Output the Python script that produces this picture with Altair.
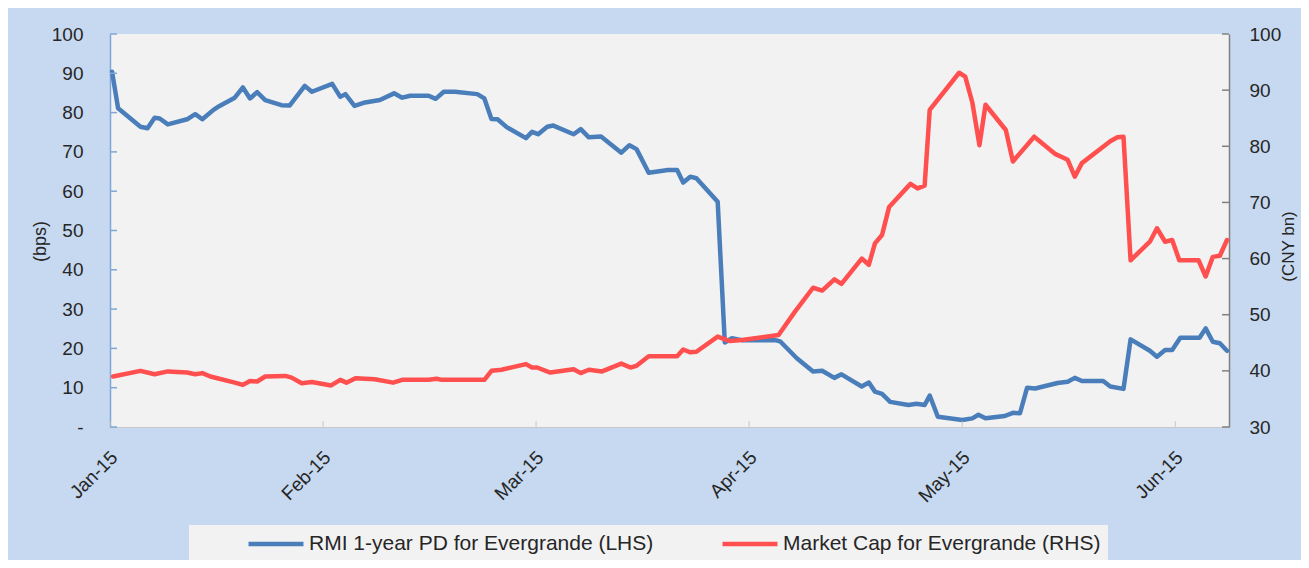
import altair as alt
import pandas as pd

months = ["Jan-15", "Feb-15", "Mar-15", "Apr-15", "May-15", "Jun-15"]
month_pos = [0, 21, 42, 63, 84, 105]

pd_t = [0.2, 0.8, 3.0, 3.7, 4.4, 4.9, 5.7, 7.6, 8.4, 9.1, 10.2, 10.8, 12.3, 13.1, 13.8, 14.5, 15.3, 16.9, 17.7, 19.2,
        19.9, 21.9, 22.7, 23.2, 24.1, 25.0, 26.6, 28.0, 28.8, 29.6, 31.4, 32.1, 32.9, 34.0, 36.2, 36.9, 37.6, 38.2, 39.1, 41.0,
        41.6, 42.2, 43.1, 43.7, 45.7, 46.4, 47.2, 48.4, 50.4, 51.2, 51.9, 53.1, 55.0, 55.9, 56.5, 57.2, 57.8, 59.9, 60.6, 61.3,
        62.3, 65.6, 66.1, 67.7, 69.3, 70.2, 71.4, 72.1, 74.1, 74.8, 75.4, 76.1, 76.9, 78.7, 79.5, 80.3, 80.8, 81.6, 84.0, 85.0,
        85.6, 86.3, 88.2, 89.0, 89.7, 90.4, 91.2, 93.4, 94.4, 95.1, 95.8, 97.9, 98.6, 99.9, 100.6, 102.5, 103.2, 104.0, 104.7, 105.5,
        107.4, 108.0, 108.7, 109.4, 110.1]
pd_v = [90.4, 81.1, 76.4, 76.0, 78.7, 78.5, 77.0, 78.3, 79.6, 78.3, 80.7, 81.7, 83.8, 86.4, 83.6, 85.2, 83.2, 81.9, 81.8, 86.8,
        85.3, 87.3, 84.0, 84.7, 81.7, 82.5, 83.2, 84.9, 83.8, 84.3, 84.3, 83.5, 85.3, 85.3, 84.7, 83.6, 78.4, 78.3, 76.3, 73.5,
        75.1, 74.5, 76.4, 76.7, 74.5, 75.8, 73.7, 73.9, 69.8, 71.7, 70.7, 64.7, 65.4, 65.4, 62.2, 63.7, 63.3, 57.3, 21.5, 22.6,
        22.1, 22.1, 21.7, 17.5, 14.1, 14.3, 12.5, 13.4, 10.3, 11.3, 9.0, 8.4, 6.4, 5.6, 5.9, 5.6, 8.0, 2.6, 1.8, 2.2,
        3.1, 2.2, 2.8, 3.6, 3.5, 10.0, 9.8, 11.2, 11.5, 12.5, 11.7, 11.7, 10.3, 9.7, 22.3, 19.4, 17.9, 19.6, 19.6, 22.7,
        22.7, 25.1, 21.7, 21.3, 19.4]

cap_t = [0.3, 3.0, 4.4, 5.7, 7.6, 8.4, 9.1, 9.9, 12.3, 13.1, 13.8, 14.5, 15.3, 17.3, 17.9, 18.9, 19.9, 21.8, 22.7, 23.3,
         24.2, 26.1, 27.9, 28.8, 31.4, 32.2, 32.7, 36.9, 37.6, 38.6, 41.0, 41.6, 42.1, 43.4, 45.7, 46.4, 47.2, 48.5, 50.4, 51.3,
         51.9, 53.1, 55.9, 56.5, 57.2, 57.8, 59.9, 61.1, 62.3, 65.9, 67.5, 69.3, 70.2, 71.4, 72.1, 74.1, 74.8, 75.4, 76.1, 76.8,
         78.9, 79.6, 80.3, 80.8, 83.7, 84.3, 85.0, 85.7, 86.3, 88.3, 89.0, 91.1, 93.2, 94.4, 95.1, 95.8, 98.6, 99.3, 99.9, 100.6,
         102.5, 103.2, 104.0, 104.7, 105.4, 107.3, 108.0, 108.7, 109.4, 110.1]
cap_v = [39.0, 40.0, 39.4, 39.9, 39.7, 39.4, 39.6, 39.0, 37.9, 37.5, 38.2, 38.1, 39.0, 39.1, 38.8, 37.8, 38.0, 37.4, 38.4, 37.9,
         38.7, 38.5, 37.9, 38.4, 38.4, 38.6, 38.4, 38.4, 40.0, 40.2, 41.2, 40.6, 40.6, 39.7, 40.3, 39.6, 40.2, 39.9, 41.3, 40.6,
         40.9, 42.6, 42.6, 43.8, 43.3, 43.4, 46.1, 45.3, 45.5, 46.4, 50.5, 54.8, 54.3, 56.3, 55.5, 60.0, 58.9, 62.7, 64.2, 69.2,
         73.3, 72.5, 73.0, 86.5, 93.1, 92.4, 87.8, 80.2, 87.4, 82.9, 77.3, 81.7, 78.6, 77.6, 74.6, 77.0, 80.9, 81.6, 81.7, 59.7,
         63.0, 65.4, 63.0, 63.3, 59.7, 59.7, 56.8, 60.3, 60.5, 63.3]

left_ticks = list(range(0, 101, 10))
right_ticks = list(range(30, 101, 10))

NAME_PD = "RMI 1-year PD for Evergrande (LHS)"
NAME_CAP = "Market Cap for Evergrande (RHS)"
BLUE = "#4A7EBB"
RED = "#FF4F4F"
FONT = "Liberation Sans"
TXT = "#262626"

W, H = 1119, 393

df_pd = pd.DataFrame({"t": pd_t, "v": pd_v, "series": NAME_PD})
df_cap = pd.DataFrame({"t": cap_t, "v": cap_v, "series": NAME_CAP})

# month label expression built from the lists above
month_expr = "''"
for p, m in reversed(list(zip(month_pos, months))):
    month_expr = f"(datum.value == {p} ? '{m}' : {month_expr})"

xscale = alt.Scale(domain=[0, 110.3], nice=False, zero=False)
yL = alt.Scale(domain=[0, 100], nice=False)
yR = alt.Scale(domain=[30, 100], nice=False, zero=False)

color = alt.Color(
    "series:N",
    scale=alt.Scale(domain=[NAME_PD, NAME_CAP], range=[BLUE, RED]),
    legend=alt.Legend(
        title=None, orient="none", legendX=79, legendY=491, direction="horizontal",
        symbolType="stroke", symbolSize=3025, symbolStrokeWidth=4.5, clipHeight=24,
        symbolOffset=50, labelOffset=3, gridAlign="all",
        labelFont=FONT, labelFontSize=21, labelColor=TXT,
        columnPadding=16, fillColor="#F2F2F2", padding=7, labelLimit=600,
    ),
)

xaxis = alt.Axis(
    values=month_pos,
    labelExpr=month_expr,
    labelAngle=315, labelAlign="right", labelBaseline="middle",
    labelFont=FONT, labelFontSize=19, labelColor=TXT, labelPadding=27, labelOffset=4,
    labelOverlap=False, labelFlush=False,
    tickSize=0, grid=False, domainColor="#C8C8C8", domainWidth=1, title=None,
)

blue = alt.Chart(df_pd).mark_line(strokeWidth=4.5, strokeJoin="round", strokeCap="round").encode(
    x=alt.X("t:Q", scale=xscale, axis=xaxis),
    y=alt.Y("v:Q", scale=yL, axis=alt.Axis(
        orient="left", values=left_ticks, labelExpr="datum.value == 0 ? '-' : datum.label",
        labelFont=FONT, labelFontSize=19, labelColor=TXT, labelPadding=27,
        tickSize=0, grid=False, domainColor="#7FA6D8", domainWidth=1.5,
        title="(bps)", titleFont=FONT, titleFontSize=18, titleFontWeight="normal", titleColor=TXT,
        titlePadding=2, titleY=207,
    )),
    color=color,
)

red = alt.Chart(df_cap).mark_line(strokeWidth=4.5, strokeJoin="round", strokeCap="round").encode(
    x=alt.X("t:Q", scale=xscale, axis=xaxis),
    y=alt.Y("v:Q", scale=yR, axis=alt.Axis(
        orient="right", values=right_ticks,
        labelFont=FONT, labelFontSize=19, labelColor=TXT, labelPadding=20,
        tickSize=0, grid=False, domainColor="#808080", domainWidth=1.5,
        title="(CNY bn)", titleFont=FONT, titleFontSize=17, titleFontWeight="normal", titleColor=TXT,
        titleAngle=270, titleBaseline="top", titlePadding=0, titleY=212,
    )),
    color=color,
)

left_tick_marks = alt.Chart(pd.DataFrame({"v": left_ticks})).mark_rule(color="#7FA6D8", strokeWidth=1.5).encode(
    y=alt.Y("v:Q", scale=yL, axis=None), x=alt.value(0), x2=alt.value(7)
)
right_tick_marks = alt.Chart(pd.DataFrame({"v": right_ticks})).mark_rule(color="#808080", strokeWidth=1.5).encode(
    y=alt.Y("v:Q", scale=yR, axis=None), x=alt.value(W - 7), x2=alt.value(W)
)
month_tick_marks = alt.Chart(pd.DataFrame({"t": month_pos})).mark_rule(color="#C8C8C8", strokeWidth=1).encode(
    x=alt.X("t:Q", scale=xscale, axis=xaxis), y=alt.value(H - 6), y2=alt.value(H)
)

chart = alt.layer(blue, red, left_tick_marks, right_tick_marks, month_tick_marks).resolve_scale(
    y="independent"
).properties(
    width=W, height=H,
    background="#C6D9F0",
    padding={"left": 102, "top": 26, "right": 72, "bottom": 133},
    autosize=alt.AutoSizeParams(type="none"),
).configure_view(fill="#F2F2F2", strokeWidth=0)

chart.save("out.html", embed_options={"renderer": "svg", "actions": False})
